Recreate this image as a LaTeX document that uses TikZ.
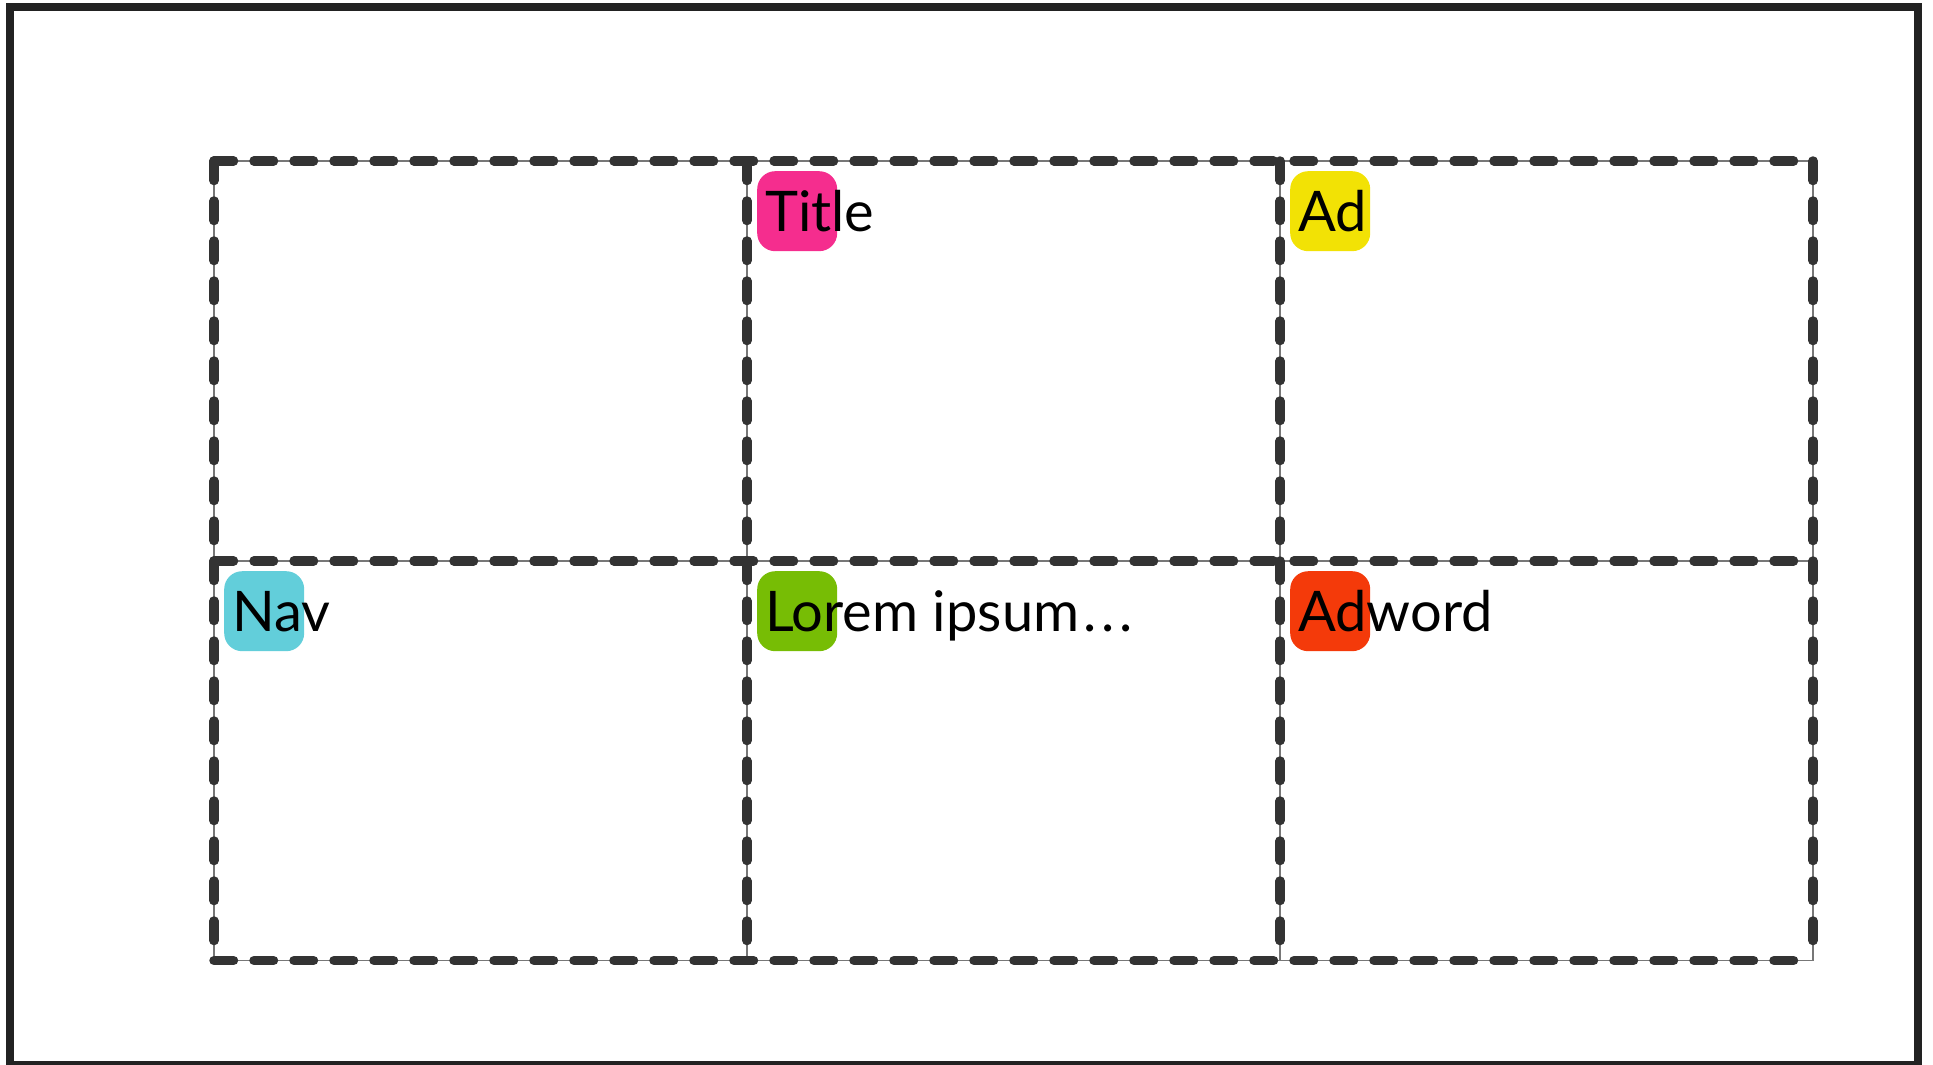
\documentclass[tikz,border=0pt]{standalone}
\usepackage{fontspec}
\setmainfont{Lato}
\definecolor{titlepink}{HTML}{F52D8E}
\definecolor{adyellow}{HTML}{F2E205}
\definecolor{navcyan}{HTML}{62CEDA}
\definecolor{loremgreen}{HTML}{77BD05}
\definecolor{adwordred}{HTML}{F43A0A}
\definecolor{dashgrey}{HTML}{333333}
\definecolor{thingrey}{HTML}{777777}
\definecolor{framec}{HTML}{222222}
\begin{document}
\begin{tikzpicture}[x=1pt,y=-1pt,
  gridthin/.style={draw=thingrey,line width=1.5pt},
  griddash/.style={draw=dashgrey,line width=9.5pt,line cap=round,dash pattern=on 19.5pt off 20.5pt},
  badge/.style={rounded corners=18pt,minimum width=80pt,minimum height=80pt,inner sep=0pt,anchor=north west},
  lbl/.style={anchor=base west,inner sep=0pt,font=\fontsize{56}{60}\selectfont}]
\useasboundingbox (0,0) rectangle (1933,1065);
\draw[line width=8pt,draw=framec] (10,7) rectangle (1918,1065);
% grid coordinates
\foreach \c/\x in {0/214,1/747,2/1280,3/1813}{
  \foreach \r/\y in {0/161,1/561,2/960.5}{
    \coordinate (g\c\r) at (\x,\y);
  }
}
% thin lines
\foreach \r in {0,1,2}{\draw[gridthin] (g0\r) -- (g3\r);}
\foreach \c in {0,1,2,3}{\draw[gridthin] (g\c0) -- (g\c2);}
% dashed lines
\foreach \r in {0,1,2}{\draw[griddash] (g0\r) -- (g3\r);}
\foreach \c in {0,1,2,3}{\draw[griddash] (g\c0) -- (g\c2);}
% badges
\node[badge,fill=titlepink] (b1) at (757,171) {};
\node[badge,fill=adyellow] (b2) at (1290,171) {};
\node[badge,fill=navcyan] (b3) at (224,571) {};
\node[badge,fill=loremgreen] (b4) at (757,571) {};
\node[badge,fill=adwordred] (b5) at (1290,571) {};
% labels
\node[lbl] (l1) at (765,231) {Title};
\node[lbl] (l2) at (1298,231) {Ad};
\node[lbl] (l3) at (232,631) {Nav};
\node[lbl] (l4) at (765,631) {Lorem ipsum\hspace{4pt}.\hspace{5pt}.\hspace{5pt}.};
\node[lbl] (l5) at (1298,631) {Adword};
\end{tikzpicture}
\end{document}
